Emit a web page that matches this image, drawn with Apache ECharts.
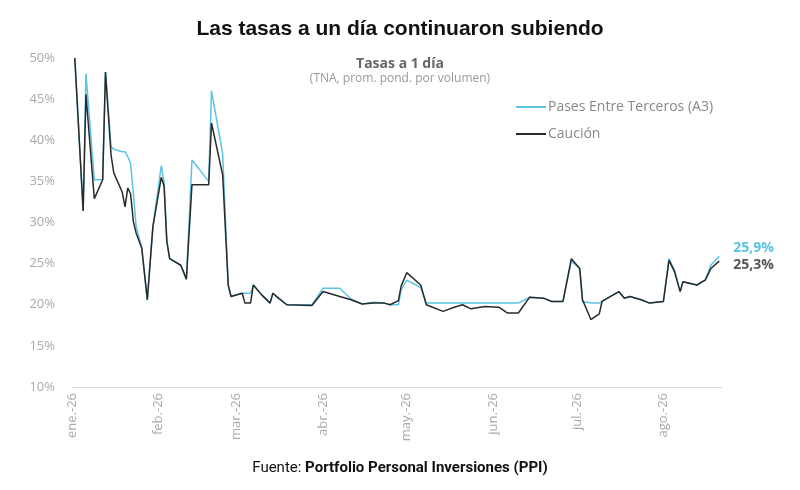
<!DOCTYPE html>
<html>
<head>
<meta charset="utf-8">
<title>Tasas a 1 día</title>
<script src="https://cdn.jsdelivr.net/npm/echarts@6/dist/echarts.min.js"></script>
<style>
  html, body { margin: 0; padding: 0; background: #fff; }
  #chart { width: 800px; height: 490px; }
</style>
</head>
<body>
<div id="chart"></div>
<script>
// fechas y valores (TNA, %)
var fechas = [
    '2026-01-02', '2026-01-05', '2026-01-06', '2026-01-09', '2026-01-12', '2026-01-13',
    '2026-01-15', '2026-01-16', '2026-01-19', '2026-01-20', '2026-01-21', '2026-01-22',
    '2026-01-23', '2026-01-24', '2026-01-26', '2026-01-28', '2026-01-30', '2026-02-02',
    '2026-02-03', '2026-02-04', '2026-02-05', '2026-02-09', '2026-02-10', '2026-02-11',
    '2026-02-13', '2026-02-19', '2026-02-20', '2026-02-24', '2026-02-26', '2026-02-27',
    '2026-03-03', '2026-03-04', '2026-03-06', '2026-03-07', '2026-03-10', '2026-03-13',
    '2026-03-14', '2026-03-16', '2026-03-19', '2026-03-28', '2026-04-01', '2026-04-07',
    '2026-04-11', '2026-04-15', '2026-04-19', '2026-04-23', '2026-04-25', '2026-04-28',
    '2026-04-29', '2026-05-01', '2026-05-06', '2026-05-08', '2026-05-14', '2026-05-18',
    '2026-05-21', '2026-05-24', '2026-05-29', '2026-06-03', '2026-06-06', '2026-06-10',
    '2026-06-14', '2026-06-19', '2026-06-22', '2026-06-26', '2026-06-29', '2026-07-02',
    '2026-07-03', '2026-07-06', '2026-07-09', '2026-07-10', '2026-07-16', '2026-07-18',
    '2026-07-20', '2026-07-24', '2026-07-27', '2026-08-01', '2026-08-03', '2026-08-05',
    '2026-08-07', '2026-08-08', '2026-08-13', '2026-08-15', '2026-08-16', '2026-08-18',
    '2026-08-21'
];
var pases = [
    50.0, 31.4, 48.1, 35.2, 35.2, 48.3,
    39.2, 38.9, 38.6, 38.6, 38.0, 37.2,
    33.5, 29.5, 26.9, 20.6, 29.5, 36.9,
    35.0, 27.7, 25.6, 24.8, 23.8, 23.1,
    37.6, 35.0, 46.0, 38.4, 22.4, 21.0,
    21.4, 21.4, 21.4, 22.4, 21.2, 20.2,
    21.4, 20.8, 20.0, 20.0, 22.0, 22.0,
    20.7, 20.1, 20.3, 20.2, 20.0, 20.0,
    21.8, 23.0, 22.1, 20.2, 20.2, 20.2,
    20.2, 20.2, 20.2, 20.2, 20.2, 20.2,
    20.9, 20.8, 20.4, 20.4, 25.3, 24.4,
    20.4, 20.2, 20.2, 20.4, 21.6, 20.8,
    21.0, 20.6, 20.2, 20.4, 25.6, 24.2,
    21.6, 22.8, 22.4, 22.8, 23.0, 24.8,
    25.9
];
var caucion = [
    50.0, 31.4, 45.6, 32.9, 35.2, 48.3,
    38.2, 36.0, 33.7, 31.9, 34.2, 33.5,
    30.1, 28.7, 26.9, 20.6, 29.5, 35.5,
    34.4, 27.7, 25.6, 24.8, 24.0, 23.1,
    34.6, 34.6, 42.1, 35.8, 22.4, 21.0,
    21.4, 20.2, 20.2, 22.4, 21.2, 20.2,
    21.4, 20.8, 20.0, 19.9, 21.6, 21.0,
    20.6, 20.1, 20.2, 20.2, 20.0, 20.5,
    22.3, 23.9, 22.4, 20.0, 19.2, 19.7,
    20.0, 19.5, 19.8, 19.7, 19.0, 19.0,
    20.9, 20.8, 20.4, 20.4, 25.6, 24.4,
    20.6, 18.2, 18.9, 20.4, 21.6, 20.8,
    21.0, 20.6, 20.2, 20.4, 25.4, 24.0,
    21.6, 22.8, 22.4, 22.8, 23.0, 24.4,
    25.3
];
var meses = ['ene.', 'feb.', 'mar.', 'abr.', 'may.', 'jun.', 'jul.', 'ago.', 'sep.', 'oct.', 'nov.', 'dic.'];
var nombres = ['Pases Entre Terceros (A3)', 'Caución'];

var colorPases = '#5cc3e4';
var colorCaucion = '#2a2a2a';

function pares(valores) {
    var out = [];
    for (var i = 0; i < fechas.length; i++) {
        out.push([fechas[i], valores[i]]);
    }
    return out;
}

function pct(p) {
    return p.value[1].toFixed(1).replace('.', ',') + '%';
}

var option = {
    backgroundColor: '#fff',
    animation: false,
    title: [
        {
            text: 'Las tasas a un día continuaron subiendo',
            left: 'center',
            top: 14,
            textStyle: {
                fontFamily: 'Liberation Sans',
                fontSize: 21,
                fontWeight: 'bold',
                color: '#111'
            }
        },
        {
            text: 'Tasas a 1 día',
            subtext: '(TNA, prom. pond. por volumen)',
            left: 'center',
            top: 52,
            itemGap: 2,
            textStyle: {
                fontFamily: 'Open Sans',
                fontSize: 14,
                fontWeight: 'bold',
                color: '#666'
            },
            subtextStyle: {
                fontFamily: 'Open Sans',
                fontSize: 12,
                color: '#999'
            }
        },
        {
            // fuente al pie
            text: '{n|Fuente: }{b|Portfolio Personal Inversiones (PPI)}',
            left: 'center',
            top: 456,
            textStyle: {
                rich: {
                    n: { fontFamily: 'Roboto', fontSize: 15, fontWeight: 'normal', color: '#111' },
                    b: { fontFamily: 'Roboto', fontSize: 15, fontWeight: 'bold', color: '#111' }
                }
            }
        }
    ],
    legend: {
        orient: 'vertical',
        left: 511,
        top: 95,
        itemGap: 13,
        itemWidth: 30,
        itemHeight: 2,
        icon: 'rect',
        data: nombres,
        textStyle: {
            fontFamily: 'Open Sans',
            fontSize: 14,
            color: '#888',
            padding: [0, 0, 0, -3]
        }
    },
    grid: {
        left: 72,
        right: 78,
        top: 58,
        bottom: 103
    },
    xAxis: {
        type: 'time',
        min: '2026-01-01',
        max: '2026-08-22',
        minInterval: 28 * 86400000,
        maxInterval: 31 * 86400000,
        axisLine: { lineStyle: { color: '#dcdcdc', width: 1 } },
        axisTick: { show: false },
        splitLine: { show: false },
        axisLabel: {
            rotate: 90,
            margin: 6,
            fontFamily: 'Open Sans',
            fontSize: 13,
            color: '#aaa',
            formatter: function (val) {
                var d = new Date(val);
                return meses[d.getMonth()] + '-26';
            }
        }
    },
    yAxis: {
        type: 'value',
        min: 10,
        max: 50,
        interval: 5,
        axisLine: { show: false },
        axisTick: { show: false },
        splitLine: { show: false },
        axisLabel: {
            margin: 17,
            fontFamily: 'Open Sans',
            fontSize: 13,
            color: '#aaa',
            formatter: '{value}%'
        }
    },
    series: [
        {
            name: nombres[0],
            type: 'line',
            data: pares(pases),
            symbol: 'none',
            lineStyle: { color: colorPases, width: 1.5 },
            itemStyle: { color: colorPases },
            endLabel: {
                show: true,
                formatter: pct,
                offset: [6, -8],
                fontFamily: 'Open Sans',
                fontSize: 14,
                fontWeight: 'bold',
                color: colorPases
            }
        },
        {
            name: nombres[1],
            type: 'line',
            data: pares(caucion),
            symbol: 'none',
            lineStyle: { color: colorCaucion, width: 1.5 },
            itemStyle: { color: colorCaucion },
            endLabel: {
                show: true,
                formatter: pct,
                offset: [6, 4],
                fontFamily: 'Open Sans',
                fontSize: 14,
                fontWeight: 'bold',
                color: '#555'
            }
        }
    ]
};

var myChart = echarts.init(document.getElementById('chart'));
myChart.setOption(option);
</script>
</body>
</html>
